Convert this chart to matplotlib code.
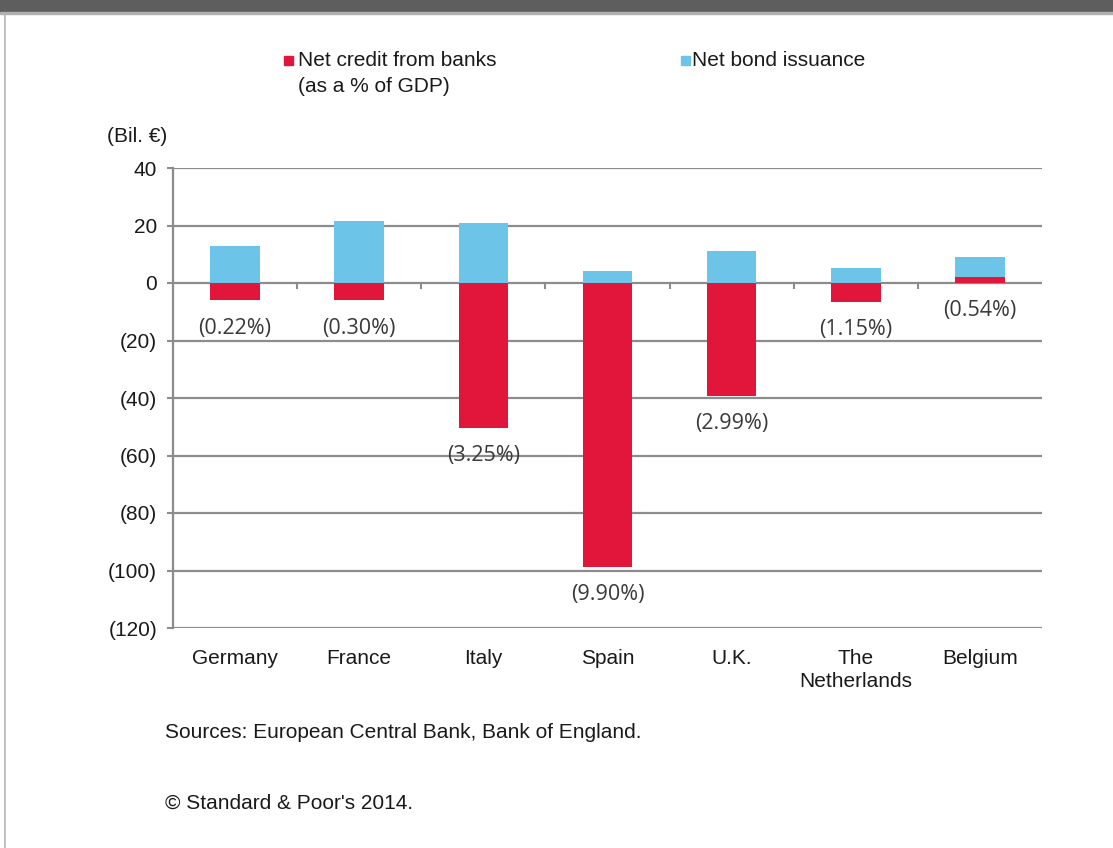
import numpy as np
import matplotlib.pyplot as plt
from matplotlib.patches import Rectangle

# chart data (Bil. EUR)
countries = ["Germany", "France", "Italy", "Spain", "U.K.", "The\nNetherlands", "Belgium"]
net_credit = [-6.0, -6.0, -50.5, -98.8, -39.3, -6.6, 2.2]
net_bonds = [12.9, 21.6, 20.8, 4.3, 11.2, 5.1, 6.9]
pct_labels = ["(0.22%)", "(0.30%)", "(3.25%)", "(9.90%)", "(2.99%)", "(1.15%)", "(0.54%)"]
y_ticks = [40, 20, 0, -20, -40, -60, -80, -100, -120]
y_ticklabels = ["40", "20", "0", "(20)", "(40)", "(60)", "(80)", "(100)", "(120)"]

RED = "#E2163B"
BLUE = "#6CC4E9"
GRID = "#8c8c8c"
TXT = "#1a1a1a"
FONT = "Liberation Sans"
LABEL_FONT = "Open Sans"
FS = 15

fig = plt.figure(figsize=(11.13, 8.48), dpi=100)
W, H = 1113, 848

# header bar and left frame line
fig.patches.append(Rectangle((0, 1 - 12 / H), 1, 12 / H, transform=fig.transFigure,
                             color="#5e5e5e", zorder=0))
fig.patches.append(Rectangle((0, 1 - 14 / H), 1, 2 / H, transform=fig.transFigure,
                             color="#b0b0b0", zorder=0))
fig.add_artist(plt.Line2D([4.5 / W, 4.5 / W], [0, 1 - 14 / H], transform=fig.transFigure,
                          color="#b5b5b5", lw=1.2))

ax = fig.add_axes([173 / W, 1 - 628 / H, (1042 - 173) / W, (628 - 168) / H])
x = np.arange(len(countries))
credit = np.array(net_credit)
bond_bottom = np.where(credit > 0, credit, 0)

ax.bar(x, net_credit, width=0.4, color=RED, zorder=3)
ax.bar(x, net_bonds, width=0.4, bottom=bond_bottom, color=BLUE, zorder=3)

ax.set_xlim(-0.5, len(countries) - 0.5)
ax.set_ylim(-120, 40)
ax.set_yticks(y_ticks)
ax.set_yticklabels(y_ticklabels, fontfamily=FONT, fontsize=FS, color=TXT)
ax.yaxis.grid(True, color=GRID, lw=1.6, zorder=0)
ax.set_xticks(x)
ax.set_xticklabels(countries, fontfamily=FONT, fontsize=FS, color=TXT, va="top", linespacing=1.3)
ax.tick_params(axis="x", length=0, pad=15)
ax.tick_params(axis="y", length=4.5, width=1.5, color=GRID, pad=7)

for s in ["top", "right", "bottom"]:
    ax.spines[s].set_visible(False)
ax.spines["left"].set_color(GRID)
ax.spines["left"].set_linewidth(1.6)

# small ticks between categories on the zero line
for b in np.arange(0.5, len(countries) - 1, 1.0):
    ax.plot([b, b], [0, -1.8], color=GRID, lw=1.5, zorder=2)

# percentage labels under each red bar
for xi, v, lab in zip(x, net_credit, pct_labels):
    ax.annotate(lab, (xi, min(v, 0)), xytext=(0, -20), textcoords="offset points",
                ha="center", va="center", fontsize=15.5, color="#3a3a3a",
                fontfamily=LABEL_FONT, zorder=4)

# legend
fig.add_artist(Rectangle((284 / W, 1 - 65 / H), 9 / W, 9 / H, transform=fig.transFigure, color=RED))
fig.text(298 / W, 1 - 61 / H, "Net credit from banks", fontfamily=FONT,
         fontsize=FS, color=TXT, va="center", ha="left")
fig.text(298 / W, 1 - 87 / H, "(as a % of GDP)", fontfamily=FONT,
         fontsize=FS, color=TXT, va="center", ha="left")
fig.add_artist(Rectangle((681 / W, 1 - 65 / H), 9 / W, 9 / H, transform=fig.transFigure, color=BLUE))
fig.text(692 / W, 1 - 61 / H, "Net bond issuance", fontfamily=FONT, fontsize=FS,
         color=TXT, va="center", ha="left")

fig.text(107 / W, 1 - 136 / H, "(Bil. \u20ac)", fontfamily=FONT, fontsize=FS, color=TXT, va="center")
fig.text(165 / W, 1 - 733 / H, "Sources: European Central Bank, Bank of England.", fontfamily=FONT,
         fontsize=FS, color=TXT, va="center")
fig.text(165 / W, 1 - 803 / H, "\u00a9 Standard & Poor's 2014.", fontfamily=FONT, fontsize=FS,
         color=TXT, va="center")

fig.savefig("out.png", dpi=100)
